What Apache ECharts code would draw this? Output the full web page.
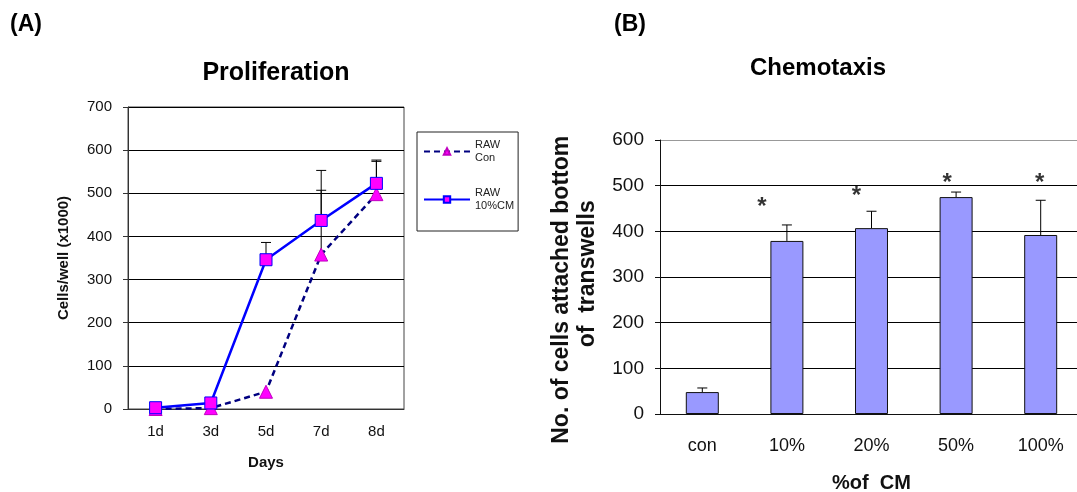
<!DOCTYPE html>
<html>
<head>
<meta charset="utf-8">
<script src="https://cdn.jsdelivr.net/npm/echarts@6/dist/echarts.min.js"></script>
<style>
  html, body { margin: 0; padding: 0; background: #fff; }
  #chart { width: 1077px; height: 492px; }
</style>
</head>
<body>
<div id="chart"></div>
<script>
// panel A: proliferation
var days = ['1d', '3d', '5d', '7d', '8d'];
var conMean = [0, 2, 40, 358, 498];
var conErr = [0, 0, 0, 195, 76];
var cmMean = [3, 14, 346, 437, 523];
var cmErr = [0, 0, 40, 70, 54];
var yTicksA = [0, 100, 200, 300, 400, 500, 600, 700];

// panel B: chemotaxis
var cmLevels = ['con', '10%', '20%', '50%', '100%'];
var cellCounts = [48, 379, 407, 475, 392];
var cellErr = [9, 35, 37, 11, 76];
var starAt = [null, 462, 486, 514, 514];
var yTicksB = [0, 100, 200, 300, 400, 500, 600];

var FONT = '"Liberation Sans", Arial, sans-serif';
var chart = echarts.init(document.getElementById('chart'));

// vertical error bar (upper side only) with a small cap
function errRender(params, api) {
  var e = api.value(2);
  if (!e) return null;
  var x = api.value(0), v = api.value(1);
  var p0 = api.coord([x, v]);
  var p1 = api.coord([x, v + e]);
  var st = { stroke: '#000', lineWidth: 1 };
  return {
    type: 'group',
    children: [
      { type: 'line', shape: { x1: p0[0], y1: p0[1], x2: p1[0], y2: p1[1] }, style: st },
      { type: 'line', shape: { x1: p1[0] - 5, y1: p1[1], x2: p1[0] + 5, y2: p1[1] }, style: st }
    ]
  };
}

function errData(mean, err) {
  return mean.map(function (m, i) { return [i, m, err[i]]; });
}

var starShift = [0, -25, -15, -9, -1];
var starData = [];
starAt.forEach(function (v, i) {
  if (v != null) {
    starData.push({ value: [i, v], label: { offset: [starShift[i], 4] } });
  }
});

var option = {
  backgroundColor: '#fff',
  animation: false,
  textStyle: { fontFamily: FONT },
  graphic: [
    { type: 'text', x: 26, y: 25, style: { text: '(A)', font: 'bold 23px ' + FONT, fill: '#000', align: 'center', verticalAlign: 'middle' } },
    { type: 'text', x: 276, y: 73, style: { text: 'Proliferation', font: 'bold 25px ' + FONT, fill: '#000', align: 'center', verticalAlign: 'middle' } },
    { type: 'text', x: 630, y: 25, style: { text: '(B)', font: 'bold 23px ' + FONT, fill: '#000', align: 'center', verticalAlign: 'middle' } },
    { type: 'text', x: 818, y: 68, style: { text: 'Chemotaxis', font: 'bold 24px ' + FONT, fill: '#000', align: 'center', verticalAlign: 'middle' } }
  ],
  legend: {
    left: 417, top: 132,
    orient: 'vertical',
    itemWidth: 46, itemHeight: 8, itemGap: 9,
    padding: [0, 4, 12, 6],
    borderColor: '#222', borderWidth: 1,
    data: ['RAW\nCon', 'RAW\n10%CM'],
    textStyle: { fontSize: 11, lineHeight: 13, color: '#222', padding: [13, 0, 0, 0] }
  },
  grid: [
    { left: 128, top: 107, width: 276, height: 302, show: true, borderColor: '#444', borderWidth: 1, outerBoundsMode: 'none', containLabel: false },
    { left: 660, top: 140, width: 423, height: 274, outerBoundsMode: 'none', containLabel: false }
  ],
  xAxis: [
    {
      gridIndex: 0, type: 'category', data: days,
      axisLine: { lineStyle: { color: '#333' } },
      axisTick: { length: 5, lineStyle: { color: '#333' } },
      axisLabel: { fontSize: 15, color: '#111', margin: 15 },
      name: 'Days', nameLocation: 'middle', nameGap: 46,
      nameTextStyle: { fontSize: 15, fontWeight: 'bold', color: '#111' }
    },
    {
      gridIndex: 1, type: 'category', data: cmLevels,
      axisLine: { lineStyle: { color: '#111' } },
      axisTick: { length: 7, lineStyle: { color: '#111' } },
      axisLabel: { fontSize: 18, color: '#111', margin: 23 },
      name: '%of  CM', nameLocation: 'middle', nameGap: 59,
      nameTextStyle: { fontSize: 20, fontWeight: 'bold', color: '#111' }
    }
  ],
  yAxis: [
    {
      gridIndex: 0, type: 'value', min: yTicksA[0], max: yTicksA[yTicksA.length - 1], interval: 100,
      axisLine: { show: true, lineStyle: { color: '#333' } },
      axisTick: { show: true, length: 5, lineStyle: { color: '#333' } },
      axisLabel: { fontSize: 15, color: '#111', margin: 16 },
      splitLine: { lineStyle: { color: '#000', width: 1 } },
      name: 'Cells/well (x1000)', nameLocation: 'middle', nameGap: 57,
      nameTextStyle: { fontSize: 15, fontWeight: 'bold', color: '#111' }
    },
    {
      gridIndex: 1, type: 'value', min: yTicksB[0], max: yTicksB[yTicksB.length - 1], interval: 100,
      axisLine: { show: true, lineStyle: { color: '#111' } },
      axisTick: { show: true, length: 5, lineStyle: { color: '#111' } },
      axisLabel: { fontSize: 19, color: '#111', margin: 16 },
      splitLine: { lineStyle: { color: ['#000', '#000', '#000', '#000', '#000', '#000', '#999'], width: 1 } },
      name: 'No. of cells attached bottom    \n of  transwells', nameLocation: 'middle', nameGap: 59,
      nameTextStyle: { fontSize: 23, fontWeight: 'bold', color: '#111', lineHeight: 26 }
    }
  ],
  series: [
    {
      type: 'custom', xAxisIndex: 0, yAxisIndex: 0, z: 1,
      renderItem: errRender, data: errData(conMean, conErr)
    },
    {
      type: 'custom', xAxisIndex: 0, yAxisIndex: 0, z: 1,
      renderItem: errRender, data: errData(cmMean, cmErr)
    },
    {
      name: 'RAW\nCon', type: 'line', xAxisIndex: 0, yAxisIndex: 0, z: 3,
      data: conMean,
      symbol: 'triangle', symbolSize: 13,
      lineStyle: { color: '#000080', width: 2.5, type: [6, 4] },
      itemStyle: { color: '#ff00ff', borderColor: '#c000c0', borderWidth: 1 }
    },
    {
      name: 'RAW\n10%CM', type: 'line', xAxisIndex: 0, yAxisIndex: 0, z: 4,
      data: cmMean,
      symbol: 'rect', symbolSize: 12,
      lineStyle: { color: '#0000ff', width: 2.5 },
      itemStyle: { color: '#ff00ff', borderColor: '#0000ff', borderWidth: 1 }
    },
    {
      type: 'bar', xAxisIndex: 1, yAxisIndex: 1, z: 2,
      data: cellCounts, barWidth: '39%',
      itemStyle: { color: '#9999ff', borderColor: '#111', borderWidth: 1 }
    },
    {
      type: 'custom', xAxisIndex: 1, yAxisIndex: 1, z: 3,
      renderItem: errRender, data: errData(cellCounts, cellErr)
    },
    {
      type: 'scatter', xAxisIndex: 1, yAxisIndex: 1, z: 5,
      symbolSize: 0, data: starData,
      label: {
        show: true, position: 'inside', formatter: '*',
        fontSize: 24, fontWeight: 'bold', color: '#000'
      }
    }
  ]
};

chart.setOption(option);
</script>
</body>
</html>
